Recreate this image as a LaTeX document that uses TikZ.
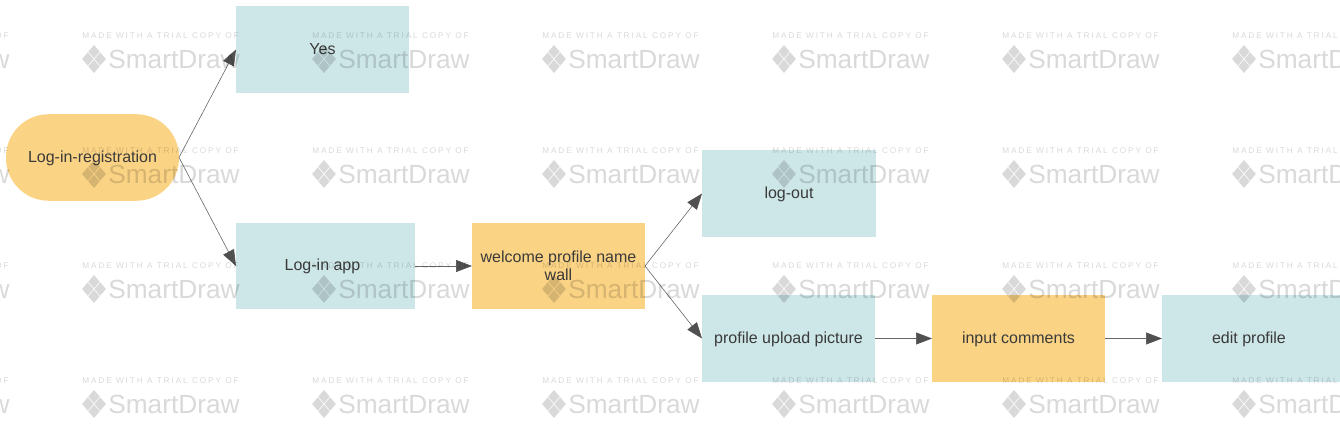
\documentclass[tikz,border=0pt]{standalone}
\usepackage{fontspec}
\setmainfont{Liberation Sans}
\usetikzlibrary{arrows.meta}
\definecolor{boxblue}{HTML}{CDE6E8}
\definecolor{boxorange}{HTML}{FBD384}
\definecolor{textgrey}{HTML}{3A3A3A}
\definecolor{linegrey}{HTML}{666666}
\definecolor{tipgrey}{HTML}{505050}
\tikzset{
    flowbox/.style={inner sep=0pt, outer sep=0pt, minimum width=129.75pt, minimum height=64.9pt, align=center, text=textgrey, font=\fontsize{12}{13.5}\selectfont},
    oneline/.style={text height=9pt, text depth=1.8pt},
    bluebox/.style={flowbox, oneline, fill=boxblue},
    orangebox/.style={flowbox, fill=boxorange},
    flowarrow/.style={draw=linegrey, line width=0.45pt, -{Triangle[length=12pt,width=9pt,color=tipgrey]}},
    wmtext/.style={inner sep=0pt, anchor=west, text=black, opacity=0.15, text opacity=0.15}
}
\begin{document}
\begin{tikzpicture}[x=0.75pt,y=-0.75pt]
    \useasboundingbox (0,0) rectangle (1340,448);
    \clip (0,0) rectangle (1340,448);
    \node[orangebox, oneline, rounded corners=32pt] (registration) at (92.5,157.5) {Log-in-registration};
    \node[bluebox] (yes) at (322.5,49.5) {Yes};
    \node[bluebox, minimum width=134.25pt] (loginapp) at (325.5,266) {\kern-4.5pt Log-in app};
    \node[orangebox] (welcome) at (558.5,266) {welcome profile name\\wall};
    \node[bluebox, minimum width=130.5pt] (logout) at (789,193.5) {log-out};
    \node[bluebox] (upload) at (788.5,338.5) {profile upload picture};
    \node[orangebox, oneline] (comments) at (1018.5,338.5) {input comments};
    \node[bluebox, minimum width=133.5pt] (editprofile) at (1251,338.5) {\kern-3pt edit profile};
    \draw[flowarrow] (registration.east) -- (yes.west);
    \draw[flowarrow] (registration.east) -- (loginapp.west);
    \draw[flowarrow] (loginapp.east) -- (welcome.west);
    \draw[flowarrow] (welcome.east) -- (logout.west);
    \draw[flowarrow] (welcome.east) -- (upload.west);
    \draw[flowarrow] (upload.east) -- (comments.west);
    \draw[flowarrow] (comments.east) -- (editprofile.west);
    \foreach \i in {0,...,6} {
        \foreach \j in {0,...,3} {
            \node[wmtext, font=\fontsize{6.2}{7}\selectfont] (made\i\j) at ({-148+230*\i},{35.5+115*\j}) {\addfontfeature{LetterSpace=23}MADE WITH A TRIAL COPY OF};
            \node[wmtext, font=\fontsize{19.7}{22}\selectfont] (brand\i\j) at ({-122+230*\i},{59+115*\j}) {SmartDraw};
            \begin{scope}[shift={({-136+230*\i},{59+115*\j})}, xscale=0.85, rotate=45]
                \fill[black, opacity=0.15] (-9.9,-9.9) rectangle (-0.5,-0.5) (0.5,-9.9) rectangle (9.9,-0.5) (-9.9,0.5) rectangle (-0.5,9.9) (0.5,0.5) rectangle (9.9,9.9);
            \end{scope}
        }
    }
\end{tikzpicture}
\end{document}
